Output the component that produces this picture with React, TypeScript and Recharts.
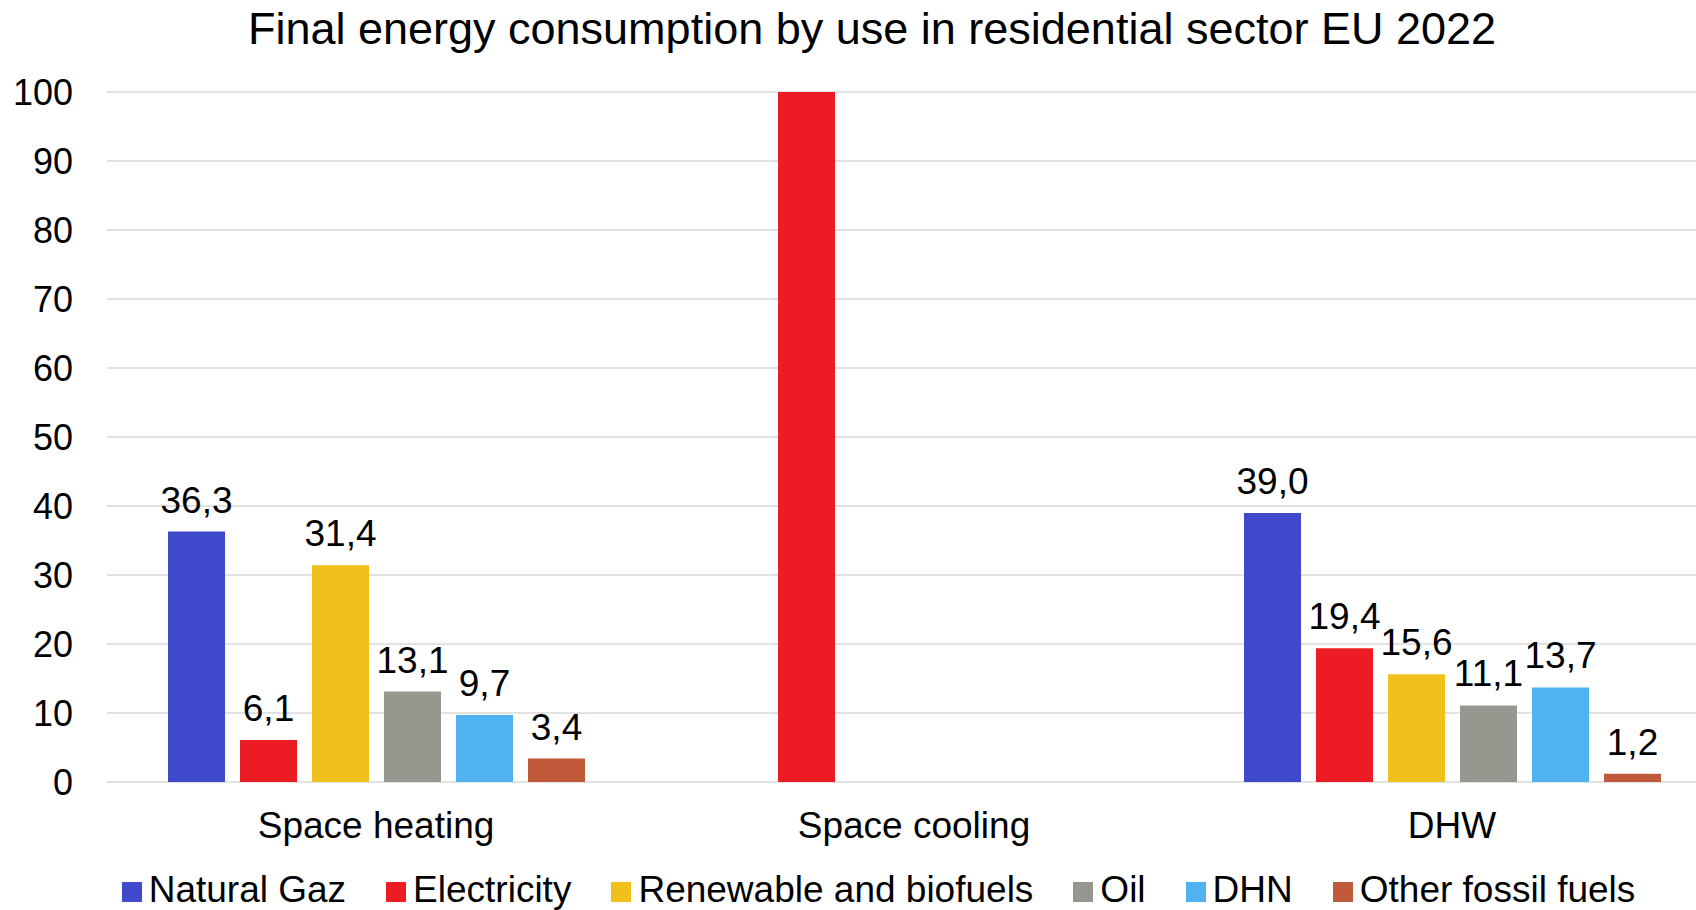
import { Bar, BarChart, CartesianGrid, LabelList, Legend, XAxis, YAxis } from "recharts";

const categories = ["Space heating", "Space cooling", "DHW"];

const naturalGaz = [36.3, null, 39.0];
const electricity = [6.1, 100, 19.4];
const renewables = [31.4, null, 15.6];
const oil = [13.1, null, 11.1];
const dhn = [9.7, null, 13.7];
const otherFossil = [3.4, null, 1.2];

const yTicks = [0, 10, 20, 30, 40, 50, 60, 70, 80, 90, 100];

const series = [
  { key: "naturalGaz", name: "Natural Gaz", color: "#4049CC", values: naturalGaz },
  { key: "electricity", name: "Electricity", color: "#ED1C24", values: electricity },
  { key: "renewables", name: "Renewable and biofuels", color: "#EFC11A", values: renewables },
  { key: "oil", name: "Oil", color: "#979790", values: oil },
  { key: "dhn", name: "DHN", color: "#50B3F0", values: dhn },
  { key: "otherFossil", name: "Other fossil fuels", color: "#C05A3A", values: otherFossil },
];

const data = categories.map((category, i) => {
  const row: Record<string, string | number | null> = { category };
  series.forEach((s) => {
    row[s.key] = s.values[i];
  });
  return row;
});

const FONT = '"Liberation Sans", Arial, sans-serif';
const CHART_W = 1744;
const CHART_H = 910;

// comma decimals like the original; the 100 bar (space cooling) has no label there
function formatValue(v: unknown) {
  if (v === null || v === undefined) return "";
  const n = Number(v);
  if (n >= 100) return "";
  return n.toFixed(1).replace(".", ",");
}

function LegendContent() {
  return (
    <div
      style={{
        display: "flex",
        justifyContent: "center",
        alignItems: "center",
        gap: 40,
        height: 40,
        lineHeight: "40px",
        paddingLeft: 13,
        fontSize: 37,
        fontFamily: FONT,
        color: "#000",
      }}
    >
      {series.map((s) => (
        <div key={s.key} style={{ display: "flex", alignItems: "center" }}>
          <span
            style={{
              display: "inline-block",
              width: 20,
              height: 20,
              background: s.color,
              marginRight: 7,
              marginTop: 4,
            }}
          />
          <span>{s.name}</span>
        </div>
      ))}
    </div>
  );
}

export default function App() {
  return (
    <div
      style={{
        position: "fixed",
        left: 0,
        top: 0,
        width: 1696,
        height: 910,
        overflow: "hidden",
        background: "#fff",
        fontFamily: FONT,
      }}
    >
      <div
        style={{
          position: "absolute",
          left: 0,
          top: 6,
          width: CHART_W,
          textAlign: "center",
          fontSize: 45,
          lineHeight: "45px",
          color: "#000",
          zIndex: 1,
        }}
      >
        Final energy consumption by use in residential sector EU 2022
      </div>
      <BarChart
        width={CHART_W}
        height={CHART_H}
        data={data}
        margin={{ top: 92, right: 23, left: 0, bottom: 0 }}
        barCategoryGap={61}
        barGap={15}
      >
        <CartesianGrid vertical={false} stroke="#E2E2E2" strokeWidth={2} />
        <XAxis
          dataKey="category"
          tickLine={false}
          axisLine={false}
          interval={0}
          height={88}
          tickMargin={24}
          tick={{ fontSize: 37, fill: "#000", fontFamily: FONT }}
        />
        <YAxis
          width={107}
          domain={[0, 100]}
          ticks={yTicks}
          tickLine={false}
          axisLine={false}
          tickMargin={28}
          tick={{ fontSize: 36, fill: "#000", fontFamily: FONT }}
        />
        <Legend
          verticalAlign="bottom"
          height={40}
          wrapperStyle={{ left: 0, width: CHART_W }}
          content={() => <LegendContent />}
        />
        {series.map((s) => (
          <Bar key={s.key} dataKey={s.key} name={s.name} fill={s.color} isAnimationActive={false}>
            <LabelList
              dataKey={s.key}
              position="top"
              offset={19}
              formatter={formatValue}
              fill="#000"
              fontSize={37}
              fontFamily={FONT}
            />
          </Bar>
        ))}
      </BarChart>
    </div>
  );
}
